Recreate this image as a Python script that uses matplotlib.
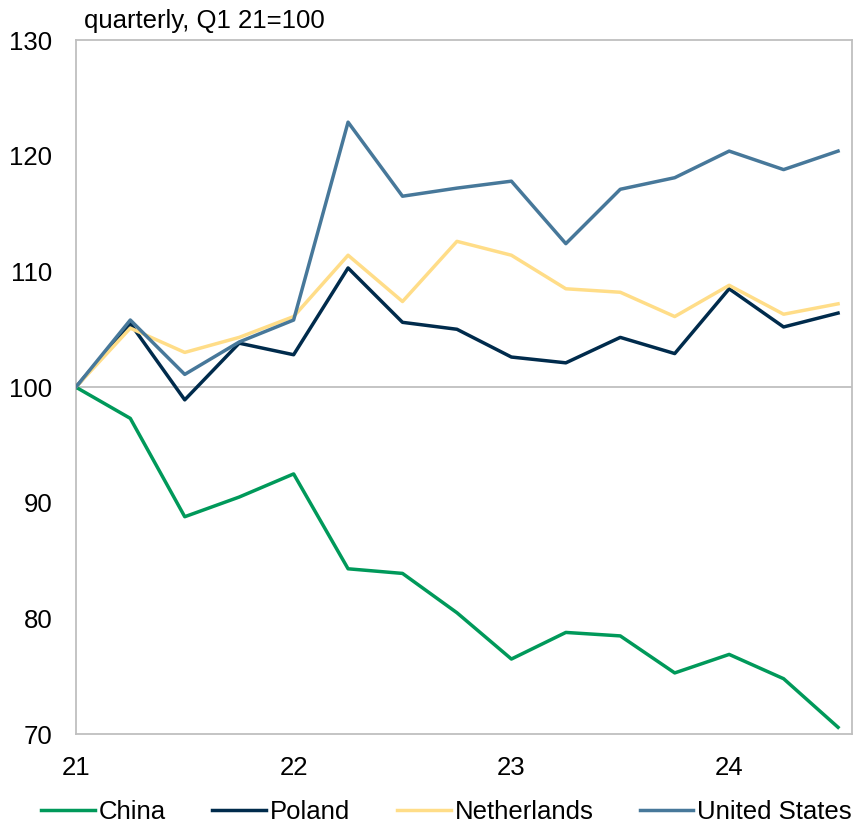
import matplotlib
matplotlib.use("Agg")
import matplotlib.pyplot as plt

plt.rcParams['font.family'] = ['Liberation Sans', 'DejaVu Sans']

quarters = list(range(15))  # Q1 21 .. Q3 24
xtick_pos = [0, 4, 8, 12]
xtick_labels = ["21", "22", "23", "24"]

china = [100, 97.3, 88.8, 90.5, 92.5, 84.3, 83.9, 80.5, 76.5, 78.8, 78.5, 75.3, 76.9, 74.8, 70.6]
poland = [100, 105.5, 98.9, 103.8, 102.8, 110.3, 105.6, 105.0, 102.6, 102.1, 104.3, 102.9, 108.5, 105.2, 106.4]
netherlands = [100, 105.1, 103.0, 104.3, 106.1, 111.4, 107.4, 112.6, 111.4, 108.5, 108.2, 106.1, 108.8, 106.3, 107.2]
united_states = [100, 105.8, 101.1, 103.9, 105.8, 122.9, 116.5, 117.2, 117.8, 112.4, 117.1, 118.1, 120.4, 118.8, 120.4]

fs = 18.5

fig = plt.figure(figsize=(8.62, 8.25), dpi=100)
ax = fig.add_axes([0.088, 0.110, 0.900, 0.8415])

gray = '#BFBFBF'
ax.axhline(100, color=gray, lw=1.3, zorder=1)

lw = 2.5
ax.plot(quarters, china, color='#00995A', lw=lw, label='China', zorder=3)
ax.plot(quarters, poland, color='#002B4C', lw=lw, label='Poland', zorder=3)
ax.plot(quarters, netherlands, color='#FFDD88', lw=lw, label='Netherlands', zorder=3)
ax.plot(quarters, united_states, color='#47789A', lw=lw, label='United States', zorder=4)

ax.set_xlim(0, 14.25)
ax.set_ylim(70, 130)
ax.set_yticks([70, 80, 90, 100, 110, 120, 130])
ax.set_xticks(xtick_pos)
ax.set_xticklabels(xtick_labels)

for s in ax.spines.values():
    s.set_color(gray)
    s.set_linewidth(1.3)

ax.tick_params(axis='y', length=0, pad=17, labelsize=fs)
ax.tick_params(axis='x', length=0, pad=16, labelsize=fs)

fig.text(0.097, 0.966, "quarterly, Q1 21=100", fontsize=fs, ha='left', va='baseline')

fig.legend(loc='lower center', bbox_to_anchor=(0.518, -0.027), ncol=4, frameon=False,
           fontsize=fs, handlelength=2.1, handletextpad=0.15, columnspacing=1.8)

fig.savefig("out.png", dpi=100)
